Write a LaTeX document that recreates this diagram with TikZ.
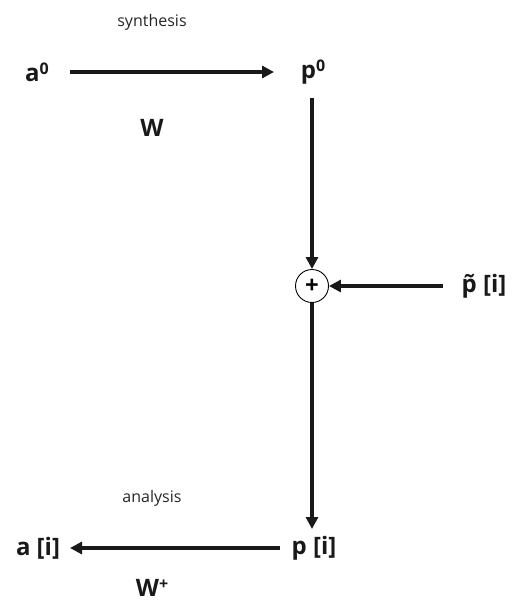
\documentclass[tikz,border=0pt]{standalone}
\usepackage{fontspec}
\setmainfont{Open Sans}
\usetikzlibrary{arrows.meta}
\newcommand{\supr}[1]{\raisebox{7pt}{\fontsize{16}{16}\selectfont\bfseries #1}}
\begin{document}
\begin{tikzpicture}[x=1pt,y=-1pt,
  lbl/.style={font=\fontsize{24}{26}\selectfont\bfseries, text=black!90, inner sep=1pt},
  captext/.style={font=\fontsize{16}{18}\selectfont, text=black!85},
  conn/.style={line width=3.2pt, draw=black!90, -{Triangle[length=12pt,width=12pt]}},
  sumnode/.style={circle, draw, line width=0.9pt, minimum size=33pt, inner sep=0pt, font=\fontsize{24}{26}\selectfont\bfseries}]
\useasboundingbox (0,0) rectangle (519,606);
\node[lbl] (a0) at (37,72) {a\supr{0}};
\node[lbl] (p0) at (313,72) {p\supr{0}};
\node[captext] (syn) at (152,22) {synthesis};
\node[lbl] (W) at (152,128) {W};
\node[sumnode] (sum) at (312,286) {+};
\node[lbl] (pt) at (484,286) {\~p [i]};
\node[lbl] (pi) at (314,548) {p [i]};
\node[lbl] (ai) at (38,548) {a [i]};
\node[captext] (ana) at (152,498) {analysis};
\node[lbl] (Wp) at (152,588) {W\supr{+}};
\coordinate (a0e) at (70,72);
\coordinate (p0w) at (274,72);
\coordinate (p0s) at (312,98);
\coordinate (pte) at (443,286);
\coordinate (pin) at (312,529);
\coordinate (piw) at (280,548);
\coordinate (aie) at (70,548);
\draw[conn] (a0e) -- (p0w);
\draw[conn] (p0s) -- (sum.north);
\draw[conn] (pte) -- (sum.east);
\draw[conn] (sum.south) -- (pin);
\draw[conn] (piw) -- (aie);
\end{tikzpicture}
\end{document}
